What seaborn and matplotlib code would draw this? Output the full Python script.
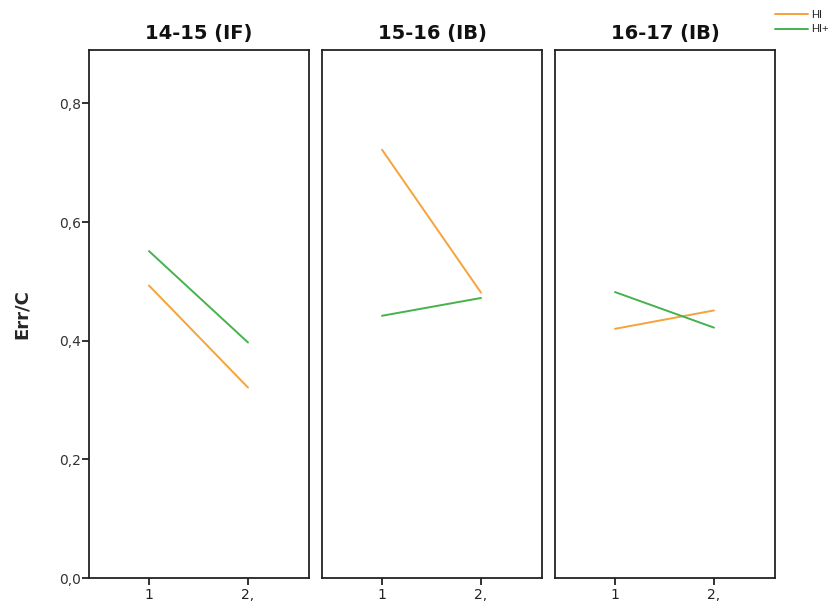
import matplotlib
matplotlib.use("Agg")
import matplotlib.pyplot as plt
import seaborn as sns
import pandas as pd
from matplotlib.lines import Line2D

panels = ["14-15 (IF)", "15-16 (IB)", "16-17 (IB)"]
x_vals = [1, 2]
x_labels = ["1", "2,"]
hi = [[0.493, 0.321], [0.722, 0.481], [0.420, 0.451]]
hi_plus = [[0.551, 0.397], [0.442, 0.472], [0.482, 0.422]]
series = ["HI", "HI+"]
y_ticks = [0.0, 0.2, 0.4, 0.6, 0.8]
y_labels = ["0,0", "0,2", "0,4", "0,6", "0,8"]

rows = []
for p, name in enumerate(panels):
    for s, vals in zip(series, [hi[p], hi_plus[p]]):
        for xv, yv in zip(x_vals, vals):
            rows.append({"panel": name, "group": s, "x": xv, "Err/C": yv})
df = pd.DataFrame(rows)

sns.set_theme(style="white")
plt.rcParams["font.family"] = ["DejaVu Sans"]

palette = {"HI": "#F5A33A", "HI+": "#45B24E"}

fig = plt.figure(figsize=(8.39, 6.05), dpi=100)
W, H = 839, 605
lefts = [89, 322, 555]
pw = 220
top_px, bot_px = 50, 578

for i, name in enumerate(panels):
    ax = fig.add_axes([lefts[i] / W, 1 - bot_px / H, pw / W, (bot_px - top_px) / H])
    sub = df[df["panel"] == name]
    sns.lineplot(data=sub, x="x", y="Err/C", hue="group", palette=palette,
                 ax=ax, legend=False, linewidth=1.4, estimator=None)
    ax.set_xlim(0.394, 2.616)
    ax.set_ylim(0, 0.89)
    ax.set_xticks(x_vals)
    ax.set_xticklabels(x_labels, fontsize=10)
    for sp in ax.spines.values():
        sp.set_visible(True)
        sp.set_color("#222222")
        sp.set_linewidth(1.3)
    ax.tick_params(axis="x", bottom=True, direction="out", length=5, width=1.3,
                   color="#222222", pad=2.5, labelcolor="#222222")
    if i == 0:
        ax.set_yticks(y_ticks)
        ax.set_yticklabels(y_labels, fontsize=10)
        ax.tick_params(axis="y", left=True, direction="out", length=5, width=1.3,
                       color="#222222", pad=1, labelcolor="#333333")
        ax.set_ylabel("Err/C", fontsize=13, fontweight="bold", labelpad=20)
    else:
        ax.set_yticks([])
        ax.set_ylabel("")
    ax.set_xlabel("")
    ax.set_title(name, fontsize=14, fontweight="bold", pad=8, color="#111111")

handles = [Line2D([0], [0], color=palette[s], lw=1.4) for s in series]
fig.legend(handles, series, loc="upper left", bbox_to_anchor=(775 / W, 1 - 10 / H),
           frameon=False, prop={"family": "Liberation Sans", "size": 8},
           handlelength=3.0, handletextpad=0.25,
           labelspacing=0.4, borderaxespad=0, borderpad=0)

fig.savefig("out.png", dpi=100)
